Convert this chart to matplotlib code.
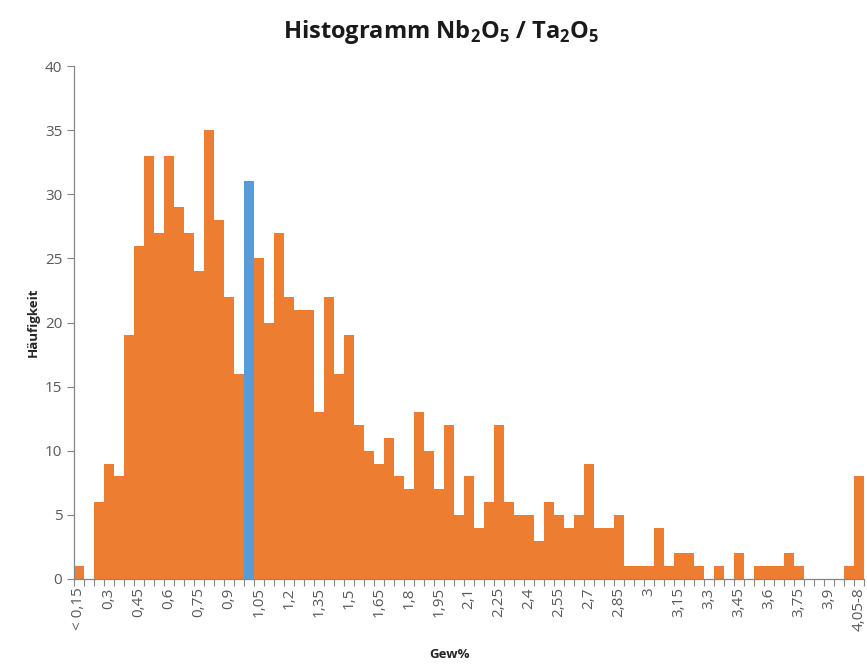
import matplotlib
matplotlib.use("Agg")
import matplotlib.pyplot as plt
import numpy as np

plt.rcParams["font.family"] = ["Open Sans", "DejaVu Sans"]
plt.rcParams["mathtext.fontset"] = "custom"
plt.rcParams["mathtext.rm"] = "Open Sans"
plt.rcParams["mathtext.bf"] = "Open Sans:bold"

# Häufigkeit per class (0,05 Gew% steps), first "< 0,15", last "4,05-8"
counts = [
    1, 0, 6, 9, 8, 19, 26, 33, 27, 33,
    29, 27, 24, 35, 28, 22, 16, 31, 25, 20,
    27, 22, 21, 21, 13, 22, 16, 19, 12, 10,
    9, 11, 8, 7, 13, 10, 7, 12, 5, 8,
    4, 6, 12, 6, 5, 5, 3, 6, 5, 4,
    5, 9, 4, 4, 5, 1, 1, 1, 4, 1,
    2, 2, 1, 0, 1, 0, 2, 0, 1, 1,
    1, 2, 1, 0, 0, 0, 0, 1, 8,
]
highlight = 17  # class shown in blue

tick_labels = [
    "< 0,15", "0,3", "0,45", "0,6", "0,75", "0,9", "1,05", "1,2", "1,35",
    "1,5", "1,65", "1,8", "1,95", "2,1", "2,25", "2,4", "2,55", "2,7",
    "2,85", "3", "3,15", "3,3", "3,45", "3,6", "3,75", "3,9", "4,05-8",
]

orange = "#ED7D31"
blue = "#5B9BD5"
axis_grey = "#868686"
text_grey = "#595959"

fig = plt.figure(figsize=(8.67, 6.66), dpi=100)
ax = fig.add_axes([74 / 867, 1 - 579 / 666, 790 / 867, 513 / 666])

n = len(counts)
x = np.arange(n)
colors = [blue if i == highlight else orange for i in range(n)]
ax.bar(x, counts, width=1.0, color=colors, linewidth=0)

ax.set_xlim(-0.5, n - 0.5)
ax.set_ylim(0, 40)
ax.set_yticks(np.arange(0, 41, 5))

ax.set_xticks(np.arange(0, n, 3))
ax.set_xticklabels(tick_labels, rotation=90, fontsize=11, color=text_grey)
ax.set_xticks(np.arange(-0.5, n, 1), minor=True)
ax.tick_params(axis="x", which="major", length=0, pad=6)
ax.tick_params(axis="x", which="minor", length=5, color=axis_grey, width=0.8)
ax.tick_params(axis="y", length=5, color=axis_grey, width=0.8,
               labelsize=11, labelcolor=text_grey)

for s in ["top", "right"]:
    ax.spines[s].set_visible(False)
for s in ["left", "bottom"]:
    ax.spines[s].set_color(axis_grey)
    ax.spines[s].set_linewidth(0.9)

title = r"Histogramm Nb$_\mathbf{2}$O$_\mathbf{5}$ / Ta$_\mathbf{2}$O$_\mathbf{5}$"
fig.text(441 / 867, 1 - 32 / 666, title,
         ha="center", va="center", fontsize=17, fontweight="bold", color="#1a1a1a")
fig.text(450 / 867, 1 - 655 / 666, "Gew%", ha="center", va="center",
         fontsize=9.5, fontweight="bold", color="#262626")
fig.text(33 / 867, 1 - 322 / 666, "Häufigkeit", ha="center", va="center",
         rotation=90, fontsize=9.5, fontweight="bold", color="#262626")

fig.savefig("out.png", dpi=100)
